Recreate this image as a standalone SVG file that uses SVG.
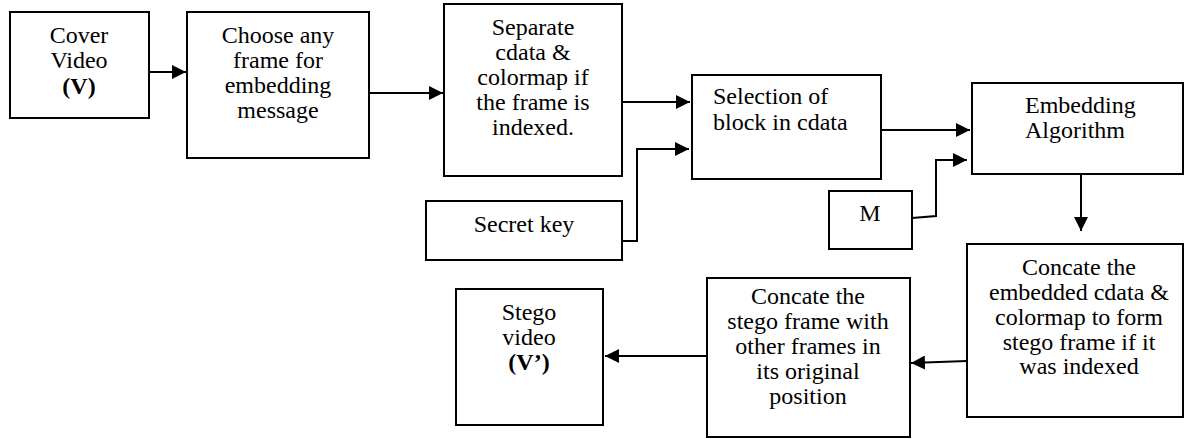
<svg xmlns="http://www.w3.org/2000/svg" width="1184" height="439" viewBox="0 0 1184 439">
<defs>
<marker id="ah" markerWidth="14" markerHeight="14" refX="14" refY="7" orient="auto" markerUnits="userSpaceOnUse">
<path d="M0,0 L14,7 L0,14 Z" fill="#000"/>
</marker>
<style>
.box{fill:#fff;stroke:#000;stroke-width:2}
.t{font-family:"Liberation Serif","Times New Roman",serif;font-size:24px;fill:#000}
.c{text-anchor:middle}
.b{font-weight:bold}
.ln{fill:none;stroke:#000;stroke-width:2}
</style>
</defs>
<rect width="1184" height="439" fill="#fff"/>
<g id="connectors">
<line class="ln" x1="149" y1="72" x2="186" y2="72" marker-end="url(#ah)"/>
<line class="ln" x1="369" y1="93" x2="443" y2="93" marker-end="url(#ah)"/>
<line class="ln" x1="622" y1="102" x2="690" y2="102" marker-end="url(#ah)"/>
<polyline class="ln" points="620,241 637,241 637,149 689,149" marker-end="url(#ah)"/>
<line class="ln" x1="881" y1="130" x2="970" y2="130" marker-end="url(#ah)"/>
<polyline class="ln" points="912,218 936,216 936,160 967,160" marker-end="url(#ah)"/>
<line class="ln" x1="1081" y1="174" x2="1081" y2="231" marker-end="url(#ah)"/>
<line class="ln" x1="967" y1="361" x2="911" y2="363" marker-end="url(#ah)"/>
<line class="ln" x1="707" y1="356" x2="605" y2="356" marker-end="url(#ah)"/>
</g>
<g id="cover">
<rect class="box" x="10" y="12" width="139" height="106"/>
<text class="t c" x="79" y="43">Cover</text>
<text class="t c" x="79" y="68">Video</text>
<text class="t c b" x="79" y="94">(V)</text>
</g>
<g id="choose">
<rect class="box" x="187" y="12" width="182" height="146"/>
<text class="t c" x="278" y="43">Choose any</text>
<text class="t c" x="278" y="68">frame for</text>
<text class="t c" x="278" y="93">embedding</text>
<text class="t c" x="278" y="118">message</text>
</g>
<g id="separate">
<rect class="box" x="444" y="4" width="178" height="172"/>
<text class="t c" x="533" y="35">Separate</text>
<text class="t c" x="533" y="60">cdata &amp;</text>
<text class="t c" x="533" y="85">colormap if</text>
<text class="t c" x="533" y="110">the frame is</text>
<text class="t c" x="533" y="135">indexed.</text>
</g>
<g id="secretkey">
<rect class="box" x="426" y="201" width="196" height="59"/>
<text class="t c" x="524" y="232">Secret key</text>
</g>
<g id="selection">
<rect class="box" x="692" y="75" width="189" height="104"/>
<text class="t" x="713" y="104">Selection of</text>
<text class="t" x="713" y="130">block in cdata</text>
</g>
<g id="m">
<rect class="box" x="829" y="191" width="83" height="58"/>
<text class="t c" x="870" y="221">M</text>
</g>
<g id="embedding">
<rect class="box" x="972" y="83" width="211" height="91"/>
<text class="t" x="1025" y="113">Embedding</text>
<text class="t" x="1025" y="138">Algorithm</text>
</g>
<g id="concate1">
<rect class="box" x="967" y="244" width="216" height="173"/>
<text class="t c" x="1079" y="275">Concate the</text>
<text class="t c" x="1079" y="300">embedded cdata &amp;</text>
<text class="t c" x="1079" y="325">colormap to form</text>
<text class="t c" x="1079" y="350">stego frame if it</text>
<text class="t c" x="1079" y="374">was indexed</text>
</g>
<g id="concate2">
<rect class="box" x="707" y="278" width="203" height="159"/>
<text class="t c" x="808" y="304">Concate the</text>
<text class="t c" x="808" y="329">stego frame with</text>
<text class="t c" x="808" y="354">other frames in</text>
<text class="t c" x="808" y="379">its original</text>
<text class="t c" x="808" y="404">position</text>
</g>
<g id="stego">
<rect class="box" x="456" y="289" width="147" height="136"/>
<text class="t c" x="529" y="320">Stego</text>
<text class="t c" x="529" y="345">video</text>
<text class="t c b" x="529" y="370">(V’)</text>
</g>
</svg>
